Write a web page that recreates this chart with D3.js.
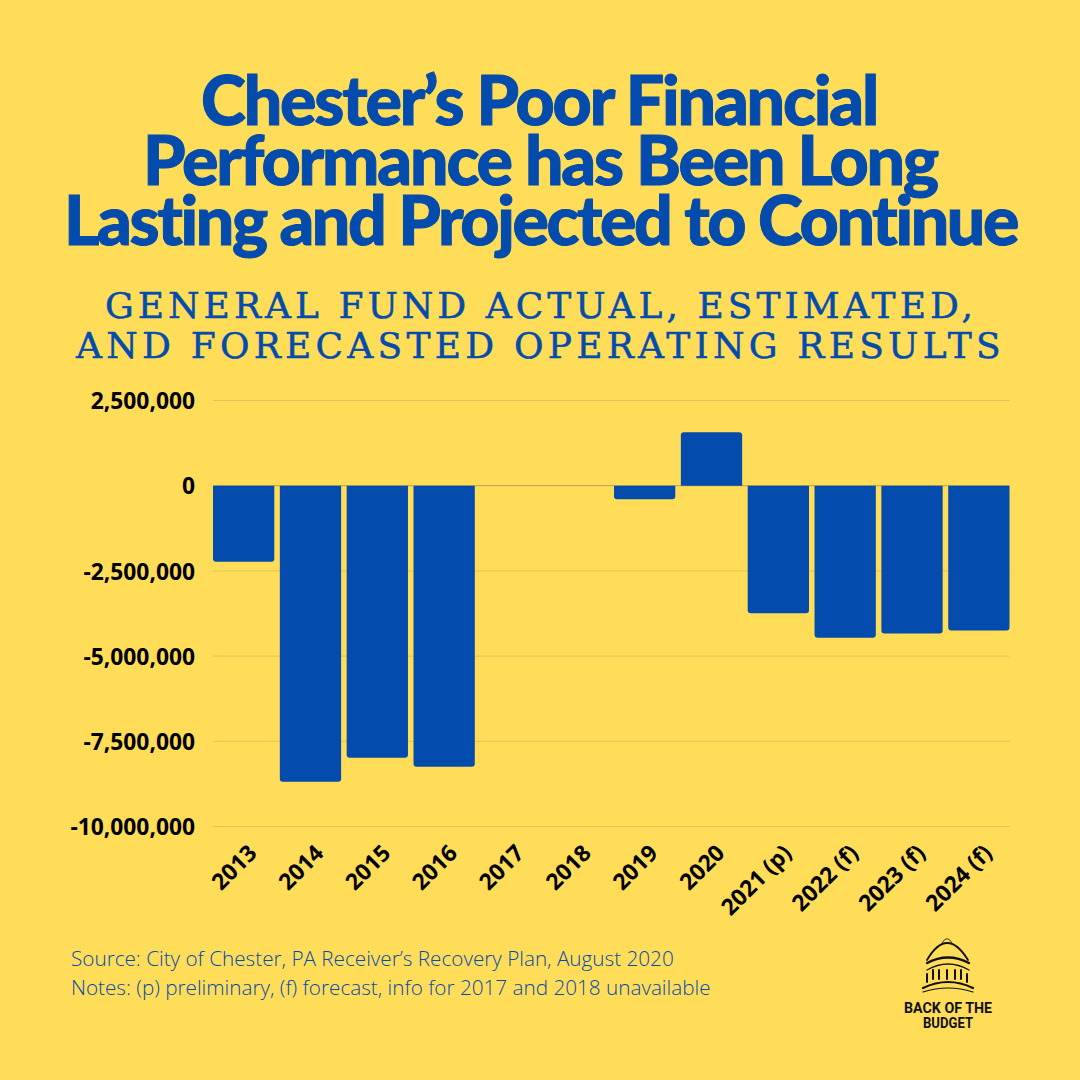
<!DOCTYPE html>
<html>
<head>
<meta charset="utf-8">
<script src="https://cdn.jsdelivr.net/npm/d3@7"></script>
<style>
  html, body { margin: 0; padding: 0; background: #ffdd59; }
  svg { display: block; }
</style>
</head>
<body>
<div id="chart"></div>
<script>
var years = ['2013', '2014', '2015', '2016', '2017', '2018', '2019', '2020', '2021 (p)', '2022 (f)', '2023 (f)', '2024 (f)'];
var results = [-2230000, -8690000, -7980000, -8250000, null, null, -400000, 1570000, -3740000, -4460000, -4340000, -4250000];
var yTicks = [2500000, 0, -2500000, -5000000, -7500000, -10000000];
var titleLines = ['Chester\u2019s Poor Financial', 'Performance has Been Long', 'Lasting and Projected to Continue'];
var subtitleLines = ['GENERAL FUND ACTUAL, ESTIMATED,', 'AND FORECASTED OPERATING RESULTS'];
var noteLines = ['Source: City of Chester, PA Receiver\u2019s Recovery Plan, August 2020', 'Notes: (p) preliminary, (f) forecast, info for 2017 and 2018 unavailable'];

var blue = '#034bac';
var bg = '#ffdd59';

var svg = d3.select('#chart').append('svg')
  .attr('width', 1080)
  .attr('height', 1080)
  .style('background', bg);

// squeeze or open a text line to a given width with letter spacing
function fitSpacing(sel, spans) {
  sel.each(function (d, i) {
    var natural = this.getComputedTextLength();
    var target = spans[i][1] - spans[i][0];
    d3.select(this).style('letter-spacing', ((target - natural) / d.length) + 'px');
  });
}

var titleSpans = [[201, 877], [143, 937], [64, 1017]];
svg.selectAll('.title')
  .data(titleLines)
  .enter()
  .append('text')
  .attr('class', 'title')
  .attr('x', (d, i) => titleSpans[i][0])
  .attr('y', (d, i) => 125 + i * 60)
  .attr('font-family', 'Lato')
  .attr('font-weight', 900)
  .attr('font-size', 68)
  .style('font-variant-ligatures', 'none')
  .attr('fill', blue)
  .attr('stroke', blue)
  .attr('stroke-width', 1)
  .text(d => d)
  .call(fitSpacing, titleSpans);

var subSpans = [[105, 977], [76, 1005]];
svg.selectAll('.subtitle')
  .data(subtitleLines)
  .enter()
  .append('text')
  .attr('class', 'subtitle')
  .attr('x', (d, i) => subSpans[i][0])
  .attr('y', (d, i) => 318 + i * 40)
  .attr('font-family', 'DejaVu Serif')
  .attr('font-size', 36)
  .attr('fill', blue)
  .attr('stroke', blue)
  .attr('stroke-width', 0.5)
  .text(d => d)
  .call(fitSpacing, subSpans);

// chart
var x = d3.scaleBand()
  .domain(years)
  .range([213, 1009.5])
  .paddingInner(0.083)
  .paddingOuter(0);

var y = d3.scaleLinear()
  .domain([2500000, -10000000])
  .range([400, 826]);

var yAxis = d3.axisLeft(y)
  .tickValues(yTicks)
  .tickSize(-(1009.5 - 213))
  .tickPadding(18)
  .tickFormat(d => d3.format(',')(d).replace('\u2212', '-'));

var gy = svg.append('g')
  .attr('transform', 'translate(213,0)')
  .call(yAxis);

gy.select('.domain').remove();
gy.selectAll('line')
  .attr('stroke', d => d === 0 ? '#b5a04a' : '#e0c257')
  .attr('stroke-width', 1);
gy.selectAll('text')
  .attr('font-family', 'Open Sans')
  .attr('font-weight', 700)
  .attr('font-size', 22.8)
  .attr('y', 1.5)
  .attr('fill', '#000');

// bars with rounded free ends
var r = 3;
function barPath(d, i) {
  var x0 = x(years[i]);
  var x1 = x0 + x.bandwidth();
  var y0 = y(0) + 0.5;
  var y1 = y(d) + 0.5;
  var s = d < 0 ? 1 : -1;
  return 'M' + x0 + ',' + y0 +
    'L' + x0 + ',' + (y1 - s * r) +
    'Q' + x0 + ',' + y1 + ' ' + (x0 + r) + ',' + y1 +
    'L' + (x1 - r) + ',' + y1 +
    'Q' + x1 + ',' + y1 + ' ' + x1 + ',' + (y1 - s * r) +
    'L' + x1 + ',' + y0 + 'Z';
}

svg.append('g')
  .selectAll('path')
  .data(results)
  .enter()
  .filter(d => d !== null)
  .append('path')
  .attr('d', function (d) { return barPath(d, results.indexOf(d)); })
  .attr('fill', blue);

var xAxis = d3.axisBottom(x).tickSize(0).tickPadding(0);
var gx = svg.append('g')
  .attr('transform', 'translate(0,826)')
  .call(xAxis);

gx.select('.domain').remove();
gx.selectAll('text')
  .attr('font-family', 'Open Sans')
  .attr('font-weight', 700)
  .attr('font-size', 22.8)
  .attr('fill', '#000')
  .attr('text-anchor', 'end')
  .attr('dy', null)
  .attr('y', 0)
  .attr('transform', 'translate(1,15) rotate(-45)')
  .attr('dominant-baseline', 'hanging');

// notes
svg.selectAll('.note')
  .data(noteLines)
  .enter()
  .append('text')
  .attr('class', 'note')
  .attr('x', 71)
  .attr('y', (d, i) => 966 + i * 29)
  .attr('font-family', 'Open Sans')
  .attr('font-weight', 300)
  .attr('font-size', 20.7)
  .attr('fill', blue)
  .text(d => d);

// logo
var logo = svg.append('g')
  .attr('fill', 'none')
  .attr('stroke', '#111')
  .attr('stroke-linecap', 'round');

logo.append('path').attr('d', 'M942,943 Q947,934 952,943').attr('stroke-width', 0.8);
logo.append('path').attr('d', 'M927,960 Q947,926 968,960').attr('stroke-width', 1.8);
logo.append('path').attr('d', 'M927,963 Q948,952 969,963').attr('stroke-width', 2.4);
logo.append('path').attr('d', 'M927,970 Q948,958 969,970').attr('stroke-width', 1.4);
logo.append('path').attr('d', 'M923,988 Q948,976 973,988').attr('stroke-width', 2.2);
logo.append('path').attr('d', 'M923,992 Q948,984 973,992').attr('stroke-width', 1.2);

var columnX = [927, 933, 939, 947, 955, 961, 967];
logo.selectAll('.col')
  .data(columnX)
  .enter()
  .append('line')
  .attr('x1', d => d)
  .attr('x2', d => d)
  .attr('y1', (d, i) => (i === 0 || i === 6) ? 974 : 970)
  .attr('y2', (d, i) => (i === 0 || i === 6) ? 982 : 979)
  .attr('stroke-width', 2);

var logoLines = ['BACK OF THE', 'BUDGET'];
var logoSpans = [[904, 992], [923, 973]];
svg.selectAll('.logo-text')
  .data(logoLines)
  .enter()
  .append('text')
  .attr('class', 'logo-text')
  .attr('x', (d, i) => logoSpans[i][0])
  .attr('y', (d, i) => 1013 + i * 15)
  .attr('textLength', (d, i) => logoSpans[i][1] - logoSpans[i][0])
  .attr('lengthAdjust', 'spacingAndGlyphs')
  .attr('font-family', 'Roboto')
  .attr('font-weight', 700)
  .attr('font-size', 15.5)
  .attr('fill', '#111')
  .text(d => d);
</script>
</body>
</html>
